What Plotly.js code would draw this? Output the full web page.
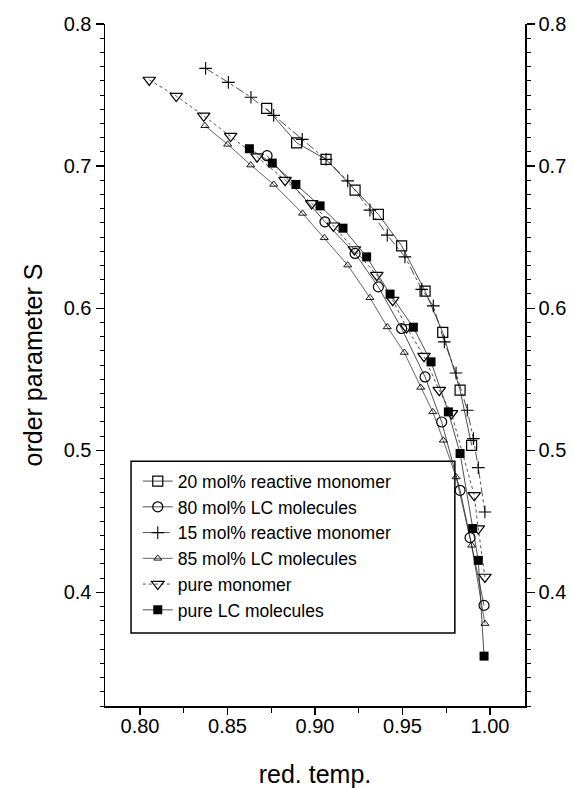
<!DOCTYPE html>
<html>
<head>
<meta charset="utf-8">
<script src="https://cdn.plot.ly/plotly-3.0.1.min.js"></script>
<style>html,body{margin:0;padding:0;background:#fff;}#chart{width:574px;height:789px;}</style>
</head>
<body>
<div id="chart"></div>
<script>
// ---- data ----
const seriesNames = [
  "20 mol% reactive monomer",
  "80 mol% LC molecules",
  "15 mol% reactive monomer",
  "85 mol% LC molecules",
  "pure monomer",
  "pure LC molecules"
];

const rm20_x = [0.8724, 0.8895, 0.9063, 0.9229, 0.9362, 0.9495, 0.9629, 0.9730, 0.9829, 0.9895];
const rm20_y = [0.7406, 0.7164, 0.7047, 0.6831, 0.6660, 0.6439, 0.6120, 0.5829, 0.5423, 0.5035];

const lc80_x = [0.8726, 0.9057, 0.9229, 0.9362, 0.9495, 0.9629, 0.9724, 0.9829, 0.9886, 0.9966];
const lc80_y = [0.7073, 0.6608, 0.6385, 0.6150, 0.5857, 0.5516, 0.5199, 0.4718, 0.4385, 0.3908];

const rm15_x = [0.8375, 0.8505, 0.8634, 0.8764, 0.8927, 0.9063, 0.9187, 0.9314, 0.9413, 0.9514, 0.9610, 0.9676, 0.9739, 0.9806, 0.9870, 0.9905, 0.9933, 0.9971];
const rm15_y = [0.7688, 0.7589, 0.7484, 0.7357, 0.7188, 0.7047, 0.6896, 0.6690, 0.6514, 0.6361, 0.6132, 0.6016, 0.5763, 0.5544, 0.5282, 0.5082, 0.4878, 0.4565];

const lc85_x = [0.8371, 0.8501, 0.8633, 0.8764, 0.8929, 0.9053, 0.9187, 0.9314, 0.9413, 0.9510, 0.9604, 0.9673, 0.9733, 0.9806, 0.9895, 0.9971];
const lc85_y = [0.7284, 0.7153, 0.7007, 0.6871, 0.6667, 0.6495, 0.6303, 0.6073, 0.5868, 0.5688, 0.5442, 0.5270, 0.5070, 0.4812, 0.4331, 0.3780];

const pm_x = [0.8053, 0.8207, 0.8364, 0.8518, 0.8669, 0.8829, 0.8981, 0.9105, 0.9225, 0.9353, 0.9444, 0.9523, 0.9623, 0.9710, 0.9780, 0.9910, 0.9933, 0.9971];
const pm_y = [0.7606, 0.7493, 0.7354, 0.7211, 0.7066, 0.6901, 0.6737, 0.6580, 0.6413, 0.6232, 0.6056, 0.5864, 0.5662, 0.5423, 0.5259, 0.4683, 0.4449, 0.4108];

const plc_x = [0.8625, 0.8756, 0.8891, 0.9029, 0.9160, 0.9295, 0.9429, 0.9562, 0.9663, 0.9762, 0.9829, 0.9901, 0.9933, 0.9966];
const plc_y = [0.7122, 0.7021, 0.6871, 0.6720, 0.6563, 0.6361, 0.6099, 0.5866, 0.5622, 0.5270, 0.4977, 0.4449, 0.4225, 0.3551];

const xTickVals = [0.80, 0.85, 0.90, 0.95, 1.00];
const yTickVals = [0.4, 0.5, 0.6, 0.7, 0.8];

// ---- styling ----
const lineCol = '#222';
const openMk = (symbol, size, w) => ({
  symbol: symbol, size: size, color: '#000',
  line: {color: '#000', width: w}
});

const traces = [
  {x: rm20_x, y: rm20_y, name: seriesNames[0], mode: 'lines+markers',
   line: {color: lineCol, width: 0.8}, marker: openMk('square-open', 10, 1.2)},
  {x: lc80_x, y: lc80_y, name: seriesNames[1], mode: 'lines+markers',
   line: {color: lineCol, width: 0.8}, marker: openMk('circle-open', 10, 1.2)},
  {x: rm15_x, y: rm15_y, name: seriesNames[2], mode: 'lines+markers',
   line: {color: lineCol, width: 0.8, dash: 'dashdot'}, marker: openMk('cross-thin-open', 9, 1.1)},
  {x: lc85_x, y: lc85_y, name: seriesNames[3], mode: 'lines+markers',
   line: {color: lineCol, width: 0.7}, marker: openMk('triangle-up-open', 7, 0.9)},
  {x: pm_x, y: pm_y, name: seriesNames[4], mode: 'lines+markers',
   line: {color: lineCol, width: 0.8, dash: 'dot'}, marker: openMk('triangle-down-open', 11, 1.2)},
  {x: plc_x, y: plc_y, name: seriesNames[5], mode: 'lines+markers',
   line: {color: lineCol, width: 0.8}, marker: {symbol: 'square', size: 9, color: '#000', line: {color: '#000', width: 0}}},
  {x: [null], y: [null], yaxis: 'y2', showlegend: false, hoverinfo: 'skip', mode: 'markers'}
];

const font = 'Liberation Sans, Arial, Helvetica, sans-serif';
const yAxisCommon = {
  range: [0.32, 0.8], showgrid: false, zeroline: false,
  showline: true, linecolor: '#000', linewidth: 1.5,
  ticks: 'outside', ticklen: 8, tickwidth: 1.3, tickcolor: '#000',
  tickvals: yTickVals, tickformat: '.1f',
  tickfont: {family: font, size: 20, color: '#000'},
  minor: {dtick: 0.01, tick0: 0, ticks: 'outside', ticklen: 4, tickwidth: 1, tickcolor: '#000'}
};

const layout = {
  width: 574, height: 789,
  margin: {l: 105, r: 49, t: 24, b: 83},
  paper_bgcolor: '#fff', plot_bgcolor: '#fff',
  font: {family: font, color: '#000'},
  showlegend: true,
  legend: {
    x: 0.078, y: 0.356, xanchor: 'left', yanchor: 'top',
    bgcolor: 'rgba(0,0,0,0)', borderwidth: 0,
    font: {family: font, size: 17.5, color: '#000'},
    tracegroupgap: 0
  },
  shapes: [{
    type: 'rect', xref: 'paper', yref: 'paper',
    x0: 0.062, x1: 0.833, y0: 0.107, y1: 0.359,
    line: {color: '#000', width: 1.5}, fillcolor: 'rgba(0,0,0,0)', layer: 'below'
  }],
  xaxis: {
    range: [0.78, 1.02], showgrid: false, zeroline: false,
    showline: true, linecolor: '#000', linewidth: 1.5,
    ticks: 'outside', ticklen: 7, tickwidth: 1.3, tickcolor: '#000',
    tickvals: xTickVals, tickformat: '.2f', ticklabelstandoff: -6,
    tickfont: {family: font, size: 20, color: '#000'},
    minor: {dtick: 0.025, tick0: 0.8, ticks: 'outside', ticklen: 5, tickwidth: 1, tickcolor: '#000'},
    title: {text: 'red. temp.', font: {family: font, size: 25, color: '#000'}, standoff: 30}
  },
  yaxis: Object.assign({}, yAxisCommon, {
    side: 'left',
    title: {text: 'order parameter S', font: {family: font, size: 25, color: '#000'}, standoff: 14}
  }),
  yaxis2: Object.assign({}, yAxisCommon, {
    side: 'right', overlaying: 'y', anchor: 'x'
  })
};

Plotly.newPlot('chart', traces, layout, {staticPlot: true, displayModeBar: false});
</script>
</body>
</html>
